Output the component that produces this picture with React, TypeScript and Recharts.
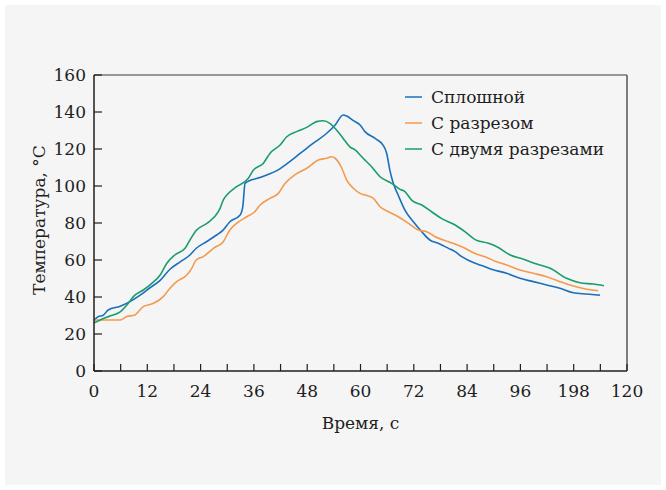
import { LineChart, Line, XAxis, YAxis, Legend } from 'recharts';

// ── Data ──────────────────────────────────────────────────

const solidTime = [0, 1, 2, 3.2, 5.9, 8.1, 10.4, 12.6, 14.9, 17.1, 19.4, 21.6, 23.1, 25.4, 27.6, 29, 30.6, 32.9, 33.5, 34, 35.1, 36.6, 38.9, 41.4, 43.4, 46.4, 49.3, 52.4, 54.3, 56.1, 56.9, 58.4, 59.9, 61, 63.3, 65.1, 65.9, 66.6, 67.4, 68.5, 70, 71.9, 73.8, 75.6, 77.5, 79.8, 81.3, 82.8, 85.8, 87.3, 89.5, 92.9, 95.9, 98.9, 101.9, 104.9, 107.9, 110.9, 113.9];
const solidTemp = [27.5, 29.5, 30, 33, 35, 37.5, 41, 45, 49, 55, 59, 62.7, 66.5, 70, 73.5, 76, 80.7, 84.3, 88.8, 101.4, 103, 104, 106, 108.6, 112, 117.6, 123, 128.5, 133, 138.4, 137.8, 135.3, 133, 129.4, 125.7, 122, 117.6, 108.6, 101.4, 95, 87, 80.7, 75.3, 70.8, 69, 66.3, 64.5, 61.8, 58.2, 57, 55, 52.8, 50.1, 48.3, 46.5, 44.7, 42.3, 41.6, 41];

const cutTime = [0, 0.6, 5.9, 7.4, 9.2, 11.1, 13.4, 15.6, 17.1, 18.6, 20.9, 22, 23, 24.6, 26.9, 29.1, 30.6, 32.1, 34.4, 36.2, 37.4, 39.6, 41.5, 43, 45.2, 47.9, 50.5, 52.4, 53.5, 54.3, 55.8, 56.9, 58.4, 59.9, 61, 62.9, 64.4, 66.3, 68.5, 70.8, 73, 74.9, 76.8, 79.8, 82.8, 85.8, 88.8, 90.3, 92.9, 95.9, 98.9, 101.9, 104.9, 107.9, 110.9, 113.5];
const cutTemp = [27, 27.6, 27.6, 29.4, 30.3, 34.8, 36.6, 40.2, 44.7, 48.3, 51.9, 55.5, 60, 61.8, 66.3, 69.9, 76.2, 79.8, 83.4, 86.1, 89.7, 93.3, 96, 101.4, 106, 109.6, 114, 115, 115.8, 115, 109.6, 103.2, 98.8, 96, 95.1, 93.3, 88.8, 86.1, 83.4, 79.8, 76.2, 75.3, 72.6, 69.9, 67.2, 63.5, 61, 59.3, 57.3, 54.6, 52.8, 51, 48.3, 45.9, 44.2, 43.4];

const twoCutTime = [0, 1.4, 3.6, 5.9, 7.4, 9.2, 11.1, 13, 14.9, 16.4, 18.2, 20.5, 21.6, 23.1, 25.4, 28, 28.4, 29.1, 29.9, 32.1, 34.7, 35.9, 38.1, 39.6, 41.9, 43.4, 45.6, 47.9, 50.1, 51.6, 53.1, 54.6, 56.1, 57.6, 58.8, 60.6, 62.5, 64.4, 67, 68.9, 70, 71.5, 73.8, 76, 78.2, 81.3, 83.5, 85.8, 88.8, 90.7, 93.7, 96.7, 99.7, 102.7, 106.4, 109.4, 112.4, 114.8];
const twoCutTemp = [26, 27.6, 29.7, 32, 35.7, 41, 43.8, 47.4, 51.9, 58.2, 62.7, 66.3, 70.8, 76.2, 79.8, 86.1, 88, 92.4, 95.1, 99.6, 104, 108.6, 112.2, 117.6, 122.2, 126.6, 129.4, 131.7, 134.8, 135.3, 133.9, 130.3, 125.7, 121.2, 119.5, 115, 110.4, 105, 101.4, 98.2, 97, 92.4, 89.7, 86.1, 82.5, 78.9, 75.3, 71, 69, 67.2, 62.7, 60.4, 57.8, 55.5, 50.1, 47.7, 47, 46.1];

const seriesNames = ['Сплошной', 'С разрезом', 'С двумя разрезами'];

const xTicks = [0, 6, 12, 18, 24, 30, 36, 42, 48, 54, 60, 66, 72, 78, 84, 90, 96, 102, 108, 114, 120];
const xMajorTicks = [0, 12, 24, 36, 48, 60, 72, 84, 96, 108, 120];
const xTickLabels = ['0', '12', '24', '36', '48', '60', '72', '84', '96', '198', '120'];
const yTicks = [0, 20, 40, 60, 80, 100, 120, 140, 160];

const zip = (t: number[], v: number[]) => t.map((time, i) => ({ time, temp: v[i] }));

const solidData = zip(solidTime, solidTemp);
const cutData = zip(cutTime, cutTemp);
const twoCutData = zip(twoCutTime, twoCutTemp);

// ── Styles ────────────────────────────────────────────────

const FONT = '"DejaVu Serif", serif';
const INK = '#1e1e1e';
const TICK_GAP = 8;

function XTick({ x, y, payload }: any) {
  const i = xMajorTicks.indexOf(payload.value);
  const axisY = y - TICK_GAP;
  return (
    <g>
      <line x1={x} x2={x} y1={axisY} y2={axisY - 7} stroke={INK} strokeWidth={1.2} />
      {i >= 0 && (
        <text x={x} y={axisY + 26} textAnchor="middle" fill={INK} fontSize={17} fontFamily={FONT}>
          {xTickLabels[i]}
        </text>
      )}
    </g>
  );
}

function YTick({ x, y, payload }: any) {
  const axisX = x + TICK_GAP;
  return (
    <g>
      <line x1={axisX} x2={axisX + 8} y1={y} y2={y} stroke={INK} strokeWidth={1.2} />
      <text x={x} y={y} dy={6} textAnchor="end" fill={INK} fontSize={17} fontFamily={FONT}>
        {payload.value}
      </text>
    </g>
  );
}

// ── Component ─────────────────────────────────────────────

export default function App() {
  return (
    <div style={{ position: 'absolute', left: 0, top: 0, width: 666, height: 490, background: '#fff' }}>
      <div style={{ position: 'absolute', left: 5, top: 5, width: 656, height: 480, background: '#f5f5f5' }} />
      <div style={{ position: 'absolute', left: 0, top: 0 }}>
        <LineChart width={666} height={490} margin={{ top: 74, right: 38, bottom: 118, left: 93 }}>
          <XAxis
            dataKey="time"
            type="number"
            domain={[0, 120]}
            ticks={xTicks}
            interval={0}
            height={1}
            tickLine={false}
            tickSize={0}
            tickMargin={TICK_GAP}
            tick={<XTick />}
            stroke={INK}
            strokeWidth={1.5}
            allowDataOverflow
          />
          <XAxis
            xAxisId="top"
            orientation="top"
            type="number"
            domain={[0, 120]}
            height={1}
            tick={false}
            tickLine={false}
            stroke="#777"
            strokeWidth={1.5}
          />
          <YAxis
            type="number"
            domain={[0, 160]}
            ticks={yTicks}
            interval={0}
            width={1}
            tickLine={false}
            tickSize={0}
            tickMargin={TICK_GAP}
            tick={<YTick />}
            stroke={INK}
            strokeWidth={1.5}
          />
          <YAxis
            yAxisId="right"
            orientation="right"
            type="number"
            domain={[0, 160]}
            width={1}
            tick={false}
            tickLine={false}
            stroke="#555"
            strokeWidth={1.5}
          />
          <Legend
            layout="horizontal"
            verticalAlign="middle"
            align="center"
            wrapperStyle={{ top: 84, left: 405, width: 250 }}
            content={({ payload }: any) => {
              const items = [...(payload ?? [])].sort(
                (a: any, b: any) => seriesNames.indexOf(a.value) - seriesNames.indexOf(b.value),
              );
              return (
                <div style={{ fontFamily: FONT, fontSize: 17, color: INK }}>
                  {items.map((entry: any) => (
                    <div key={entry.value} style={{ display: 'flex', alignItems: 'center', height: 26 }}>
                      <span style={{ width: 17, height: 2, background: entry.color, opacity: 0.75, marginRight: 9 }} />
                      <span>{entry.value}</span>
                    </div>
                  ))}
                </div>
              );
            }}
          />
          <Line
            data={solidData}
            dataKey="temp"
            name={seriesNames[0]}
            type="monotone"
            stroke="#1a6fbd"
            strokeWidth={1.6}
            dot={false}
            isAnimationActive={false}
          />
          <Line
            data={cutData}
            dataKey="temp"
            name={seriesNames[1]}
            type="monotone"
            stroke="#f39a4e"
            strokeWidth={1.6}
            dot={false}
            isAnimationActive={false}
          />
          <Line
            data={twoCutData}
            dataKey="temp"
            name={seriesNames[2]}
            type="monotone"
            stroke="#1a9d6c"
            strokeWidth={1.6}
            dot={false}
            isAnimationActive={false}
          />
        </LineChart>
      </div>
      <div
        style={{
          position: 'absolute',
          left: 94,
          width: 533,
          top: 413,
          textAlign: 'center',
          fontFamily: FONT,
          fontSize: 17,
          color: INK,
        }}
      >
        Время, с
      </div>
      <div
        style={{
          position: 'absolute',
          left: 39,
          top: 220,
          transform: 'translate(-50%, -50%) rotate(-90deg)',
          whiteSpace: 'nowrap',
          fontFamily: FONT,
          fontSize: 17,
          color: INK,
        }}
      >
        Температура, °C
      </div>
    </div>
  );
}
